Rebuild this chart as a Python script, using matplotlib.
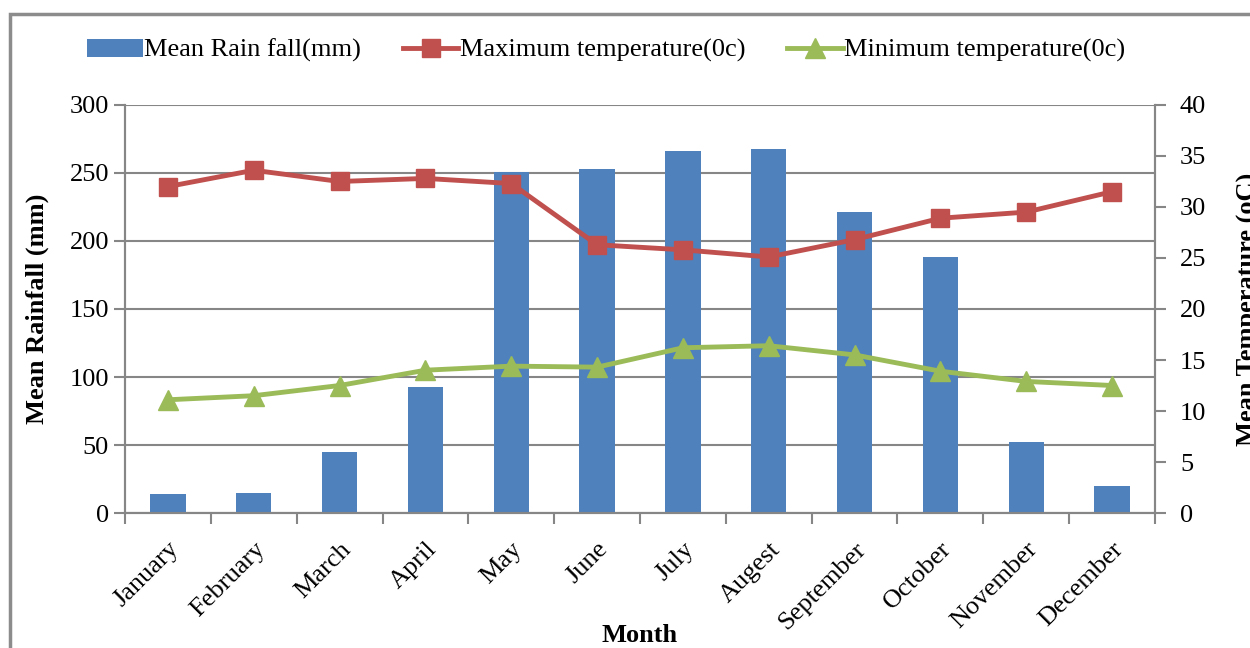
import matplotlib.pyplot as plt
import matplotlib.patches as mpatches
import numpy as np

plt.rcParams['font.family'] = ['Liberation Serif', 'DejaVu Serif']

months = ['January', 'February', 'March', 'April', 'May', 'June', 'July',
          'Augest', 'September', 'October', 'November', 'December']
rainfall = [14, 15, 45, 93, 251, 253, 266, 268, 221, 188, 52, 20]
max_temp = [32.0, 33.6, 32.5, 32.8, 32.3, 26.3, 25.8, 25.1, 26.8, 28.9, 29.5, 31.5]
min_temp = [11.1, 11.5, 12.5, 14.0, 14.4, 14.3, 16.2, 16.4, 15.5, 13.9, 12.9, 12.5]

blue = '#4F81BD'
red = '#C0504D'
green = '#9BBB59'
grid_col = '#868686'
fs = 19

fig = plt.figure(figsize=(12.5, 6.48), dpi=100)
# chart border, cut at right and bottom like the reference
fig.patches.append(mpatches.Rectangle((10 / 1250, -0.1), 1.2, 1 - 14 / 648 + 0.1,
                                      transform=fig.transFigure, fill=False,
                                      edgecolor='#8c8c8c', linewidth=2.5))

ax = fig.add_axes([0.1, 0.2083, 0.824, 0.6297])
x = np.arange(len(months))

ax.bar(x, rainfall, width=0.41, color=blue, label='Mean Rain fall(mm)', zorder=2)
ax.set_ylim(0, 300)
ax.set_xlim(-0.5, len(months) - 0.5)
ax.set_yticks(np.arange(0, 301, 50))
ax.yaxis.grid(True, color=grid_col, linewidth=1.5, zorder=0)
ax.set_axisbelow(True)

ax.set_xticks(np.arange(-0.5, len(months), 1.0))
ax.set_xticklabels([])
ax.set_xticks(x, minor=True)
ax.set_xticklabels(months, minor=True, rotation=45, ha='right',
                   rotation_mode='anchor', fontsize=fs)
ax.tick_params(axis='x', which='minor', length=0, pad=18)
ax.tick_params(axis='x', which='major', length=8, color=grid_col, width=1.5)
ax.tick_params(axis='y', length=8, color=grid_col, width=1.5, labelsize=fs)

for s in ['left', 'bottom', 'right']:
    ax.spines[s].set_color(grid_col)
    ax.spines[s].set_linewidth(1.5)
ax.spines['top'].set_visible(False)

ax.set_ylabel('Mean Rainfall (mm)', fontsize=fs, fontweight='bold', labelpad=15)
ax.set_xlabel('Month', fontsize=fs, fontweight='bold', labelpad=-7)

ax2 = ax.twinx()
l1, = ax2.plot(x, max_temp, color=red, linewidth=3.5, marker='s', markersize=13,
               label='Maximum temperature(0c)', zorder=3)
l2, = ax2.plot(x, min_temp, color=green, linewidth=3.5, marker='^', markersize=14,
               label='Minimum temperature(0c)', zorder=3)
ax2.set_ylim(0, 40)
ax2.set_yticks(np.arange(0, 41, 5))
ax2.tick_params(axis='y', length=8, color=grid_col, width=1.5, labelsize=fs, pad=10)
for s in ['left', 'bottom', 'right']:
    ax2.spines[s].set_color(grid_col)
    ax2.spines[s].set_linewidth(1.5)
ax2.spines['top'].set_visible(False)
ax2.set_ylabel('Mean Temperature (oC)', fontsize=fs, fontweight='bold', labelpad=22)

h1, lab1 = ax.get_legend_handles_labels()
fig.legend(h1 + [l1, l2], lab1 + [l1.get_label(), l2.get_label()],
           loc='center', bbox_to_anchor=(0.485, 0.922), ncol=3, frameon=False,
           fontsize=fs, handlelength=2.1, handletextpad=0.05, columnspacing=1.6)

fig.savefig('out.png', dpi=100)
